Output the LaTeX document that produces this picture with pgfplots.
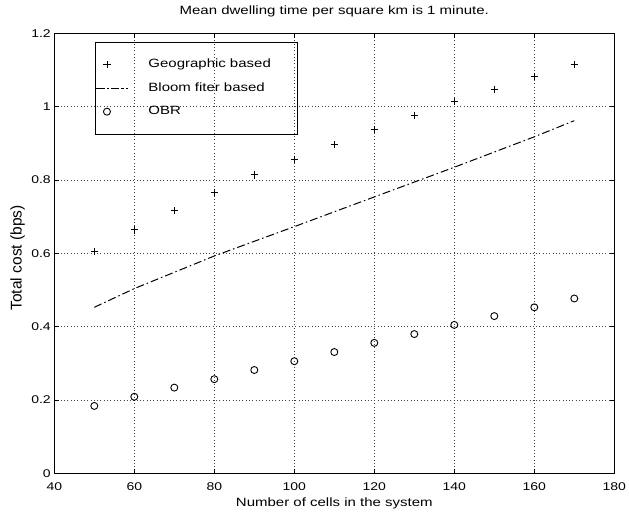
\documentclass[border=0pt]{standalone}
\usepackage{fontspec}
\setmainfont{Liberation Sans}[FakeStretch=1.25]
\newfontfamily\yfont{Liberation Sans}
\usepackage{pgfplots}
\pgfplotsset{compat=1.18}
\pgfplotsset{
  legmark/.style={legend image code/.code={\draw[mark repeat=2,mark phase=2,##1] plot coordinates {(0pt,0pt) (11pt,0pt) (32pt,0pt)};}},
  legline/.style={legend image code/.code={\path (0pt,0pt) -- (32pt,0pt); \draw[##1, dash pattern=on 6pt off 3pt on 1.5pt off 3pt] (3pt,0pt) -- (31pt,0pt);}},
}
\begin{document}
\begin{tikzpicture}
\begin{axis}[
  width=560pt, height=440pt, scale only axis,
  xmin=40, xmax=180, ymin=0, ymax=1.2,
  xtick={40,60,80,100,120,140,160,180},
  xticklabels={40,60,80,100,120,140,160,180},
  ytick={0,0.2,0.4,0.6,0.8,1,1.2},
  yticklabels={0,0.2,0.4,0.6,0.8,1,1.2},
  xtick pos=both, ytick pos=both,
  tick align=inside, major tick length=4.5pt,
  tick style={black, line width=0.7pt},
  axis line style={black, line width=0.9pt},
  grid=major,
  grid style={black!75, line width=0.6pt, dash pattern=on 0.7pt off 2.6pt},
  ticklabel style={font=\fontsize{11.2}{13}\selectfont},
  xticklabel style={yshift=-5.5pt},
  /pgf/number format/assume math mode=true,
  title={Mean dwelling time per square km is 1 minute.},
  title style={font=\fontsize{12}{14}\selectfont, at={(axis description cs:0.5,1)}, anchor=base, yshift=12.7pt},
  xlabel={Number of cells in the system},
  xlabel style={font=\fontsize{12}{14}\selectfont, at={(axis description cs:0.5,0)}, anchor=base, yshift=-32.7pt},
  ylabel={Total cost (bps)},
  ylabel style={font=\yfont\fontsize{11.5}{13}\selectfont, at={(axis description cs:-0.0657,0.49)}, anchor=center, scale=1.35},
  legend cell align=left,
  legend style={at={(axis description cs:0.0727,0.9811)}, anchor=north west,
    draw=black, fill=none, line width=0.9pt, inner xsep=0pt, inner ysep=10.75pt, row sep=0pt,
    font=\fontsize{12}{14}\selectfont,
    nodes={inner xsep=2pt, inner ysep=5.75pt, text height=9pt, text depth=3pt, text width=165pt}},
]
\addplot[only marks, mark=+, mark size=3.6pt, line width=0.9pt, black, legmark] coordinates {
(50,0.605) (60,0.664) (70,0.717) (80,0.766) (90,0.814) (100,0.857) (110,0.897)
(120,0.938) (130,0.976) (140,1.014) (150,1.047) (160,1.082) (170,1.116)};
\addlegendentry{\hspace*{18pt}Geographic based}
\addplot[no marks, black, line width=1pt, dash pattern=on 8pt off 3pt on 1.5pt off 3pt, legline] coordinates {
(50,0.453) (60,0.504) (80,0.593) (100,0.673) (120,0.754) (140,0.835) (160,0.918) (170,0.962)};
\addlegendentry{\hspace*{18pt}Bloom fiter based}
\addplot[only marks, mark=o, mark size=3.5pt, line width=0.9pt, black, legmark] coordinates {
(50,0.184) (60,0.209) (70,0.234) (80,0.257) (90,0.282) (100,0.306) (110,0.331)
(120,0.356) (130,0.380) (140,0.405) (150,0.429) (160,0.453) (170,0.477)};
\addlegendentry{\hspace*{18pt}OBR}
\end{axis}
\pgfresetboundingbox
\path[use as bounding box] (-54.3pt,-41.7pt) rectangle (574.7pt,473.4pt);
\end{tikzpicture}
\end{document}
